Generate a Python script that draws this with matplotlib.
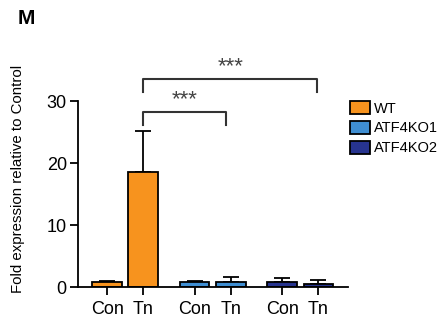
import matplotlib
matplotlib.use("Agg")
import matplotlib.pyplot as plt
import numpy as np

plt.rcParams['font.family'] = ['Liberation Sans', 'DejaVu Sans']

# data
tick_labels = ['Con', 'Tn', 'Con', 'Tn', 'Con', 'Tn']
groups = ['WT', 'ATF4KO1', 'ATF4KO2']
means = [0.75, 18.5, 0.75, 0.8, 0.8, 0.5]
errs = [0.25, 6.6, 0.25, 0.8, 0.6, 0.6]
bar_group = [0, 0, 1, 1, 2, 2]
colors = ['#F7931E', '#3F8ED2', '#27348F']

x = np.array([0, 1, 2.43, 3.43, 4.86, 5.86])

fig = plt.figure(figsize=(4.43, 3.26), dpi=100)
ax = fig.add_axes([0.176, 0.1196, 0.61, 0.5704])

for i in range(len(means)):
    g = bar_group[i]
    lab = groups[g] if i % 2 == 0 else None
    ax.bar(x[i], means[i], 0.82, color=colors[g], edgecolor='black',
           linewidth=1.3, label=lab, zorder=2)
    ax.errorbar(x[i], means[i], yerr=[[0], [errs[i]]], fmt='none',
                ecolor='black', elinewidth=1.3, capsize=6, capthick=1.3, zorder=1)

ax.set_xlim(-0.81, 6.69)
ax.set_ylim(0, 30)
ax.set_yticks([0, 10, 20, 30])
ax.set_xticks(x)
ax.set_xticklabels(tick_labels, fontsize=13)
ax.tick_params(axis='y', labelsize=13, width=1.3, length=6, pad=2)
ax.tick_params(axis='x', width=1.3, length=6, pad=4)
for s in ['top', 'right']:
    ax.spines[s].set_visible(False)
for s in ['left', 'bottom']:
    ax.spines[s].set_linewidth(1.3)

ax.set_ylabel('Fold expression relative to Control', fontsize=10.8)
ax.yaxis.set_label_coords(-0.195, 0.58)

# significance brackets
def bracket(x0, x1, y_low, y_top, text):
    ax.plot([x0, x0, x1, x1], [y_low, y_top, y_top, y_low], color='#333333',
            linewidth=1.5, clip_on=False)
    ax.text((x0 + x1) / 2, y_top + 0.3, text, ha='center', va='bottom',
            fontsize=16, color='#444444')

bracket(x[1], x[3] - 0.12, 26.2, 28.2, '***')
bracket(x[1], x[5] - 0.03, 31.4, 33.5, '***')

leg = ax.legend(loc='upper left', bbox_to_anchor=(0.985, 1.03), frameon=False,
                fontsize=10.5, handlelength=1.4, handleheight=1.0,
                handletextpad=0.25, labelspacing=0.35, borderaxespad=0)

fig.text(0.04, 0.925, 'M', fontsize=15, fontweight='bold')

fig.savefig('out.png', dpi=100)
